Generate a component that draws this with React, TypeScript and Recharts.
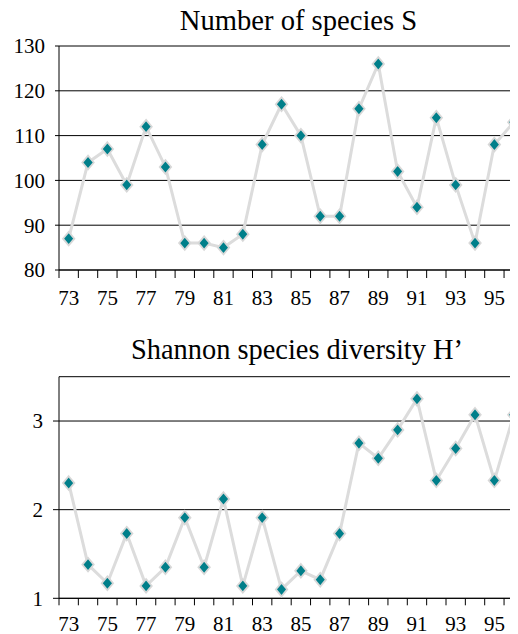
import React from 'react';
import { LineChart, Line, XAxis, YAxis, CartesianGrid } from 'recharts';

const years = [73, 74, 75, 76, 77, 78, 79, 80, 81, 82, 83, 84, 85, 86, 87, 88, 89, 90, 91, 92, 93, 94, 95, 96];
const species = [87, 104, 107, 99, 112, 103, 86, 86, 85, 88, 108, 117, 110, 92, 92, 116, 126, 102, 94, 114, 99, 86, 108, 113];
const shannon = [2.3, 1.38, 1.17, 1.73, 1.14, 1.35, 1.91, 1.35, 2.12, 1.14, 1.91, 1.1, 1.31, 1.21, 1.73, 2.75, 2.58, 2.9, 3.25, 2.33, 2.69, 3.07, 2.33, 3.07];
const speciesTicks = [80, 90, 100, 110, 120, 130];
const shannonTicks = [1, 2, 3];
const yearLabels = [73, 75, 77, 79, 81, 83, 85, 87, 89, 91, 93, 95];
const titles = ['Number of species S', 'Shannon species diversity H\u2019'];

const bandEdges = years.map((y) => y - 0.5).concat([years[years.length - 1] + 0.5]);
const speciesData = years.map((year, i) => ({ year, value: species[i] }));
const shannonData = years.map((year, i) => ({ year, value: shannon[i] }));

const FONT = "'Liberation Serif'";
const CHART_W = 540;
const Y_W = 59;
const M_RIGHT = 16.6;
const BAND = (CHART_W - Y_W - M_RIGHT) / years.length;

const makeTick = () => (props: any) => {
  const { x, y, payload } = props;
  const v = Math.round(payload.value + 0.5);
  if (!yearLabels.includes(v)) return <g />;
  return (
    <text x={x + BAND / 2} y={y} dy="0.71em" textAnchor="middle" fontSize={21} style={{ fontFamily: FONT }} fill="#000">
      {v}
    </text>
  );
};

const Diamond = (props: any) => {
  const { cx, cy, index } = props;
  if (cx == null || cy == null) return <g key={index} />;
  const w = 5.7;
  const h = 6.8;
  return (
    <path
      key={index}
      d={`M${cx},${cy - h} L${cx + w},${cy} L${cx},${cy + h} L${cx - w},${cy} Z`}
      fill="#007f8a"
      stroke="#d8d8d8"
      strokeWidth={1.8}
    />
  );
};

const yTick = { fontSize: 21, fill: '#000', style: { fontFamily: FONT } };

export default function App() {
  return (
    <div style={{ position: 'relative', marginLeft: -8, marginTop: -8, width: 518, height: 634, overflow: 'hidden', background: '#fff' }}>
      <div style={{ position: 'absolute', left: 0, top: 0 }}>
        <LineChart width={CHART_W} height={310} data={speciesData} margin={{ top: 46, right: M_RIGHT, left: 0, bottom: 0 }}>
          <CartesianGrid vertical={false} stroke="#000" strokeWidth={1} />
          <XAxis
            dataKey="year"
            type="number"
            domain={[bandEdges[0], bandEdges[bandEdges.length - 1]]}
            ticks={bandEdges}
            interval={0}
            height={40}
            tickSize={8}
            tickMargin={12}
            tick={makeTick()}
            stroke="#000"
            tickLine={{ stroke: '#000' }}
            axisLine={{ stroke: '#000' }}
          />
          <YAxis
            domain={[80, 130]}
            ticks={speciesTicks}
            interval={0}
            width={Y_W}
            tickSize={4}
            tickMargin={10}
            tick={yTick}
            stroke="#000"
            axisLine={{ stroke: '#000' }}
            tickLine={{ stroke: '#000' }}
          />
          <Line dataKey="value" stroke="#dcdcdc" strokeWidth={3} dot={Diamond} isAnimationActive={false} />
        </LineChart>
      </div>
      <div style={{ position: 'absolute', left: 0, top: 330 }}>
        <LineChart width={CHART_W} height={304} data={shannonData} margin={{ top: 46.7, right: M_RIGHT, left: 0, bottom: 0 }}>
          <CartesianGrid vertical={false} stroke="#000" strokeWidth={1} />
          <XAxis
            dataKey="year"
            type="number"
            domain={[bandEdges[0], bandEdges[bandEdges.length - 1]]}
            ticks={bandEdges}
            interval={0}
            height={35.7}
            tickSize={7}
            tickMargin={11}
            tick={makeTick()}
            stroke="#000"
            tickLine={{ stroke: '#000' }}
            axisLine={{ stroke: '#000' }}
          />
          <YAxis
            domain={[1, 3.5]}
            ticks={shannonTicks}
            interval={0}
            width={Y_W}
            tickSize={6}
            tickMargin={10}
            tick={yTick}
            stroke="#000"
            axisLine={{ stroke: '#000' }}
            tickLine={{ stroke: '#000' }}
          />
          <Line dataKey="value" stroke="#dcdcdc" strokeWidth={3} dot={Diamond} isAnimationActive={false} />
        </LineChart>
      </div>
      <svg width={518} height={634} style={{ position: 'absolute', left: 0, top: 0, pointerEvents: 'none' }}>
        <text x={298.5} y={30} textAnchor="middle" fontSize={28.6} style={{ fontFamily: FONT }} fill="#000">{titles[0]}</text>
        <text x={297} y={359} textAnchor="middle" fontSize={28.4} style={{ fontFamily: FONT }} fill="#000">{titles[1]}</text>
      </svg>
    </div>
  );
}
